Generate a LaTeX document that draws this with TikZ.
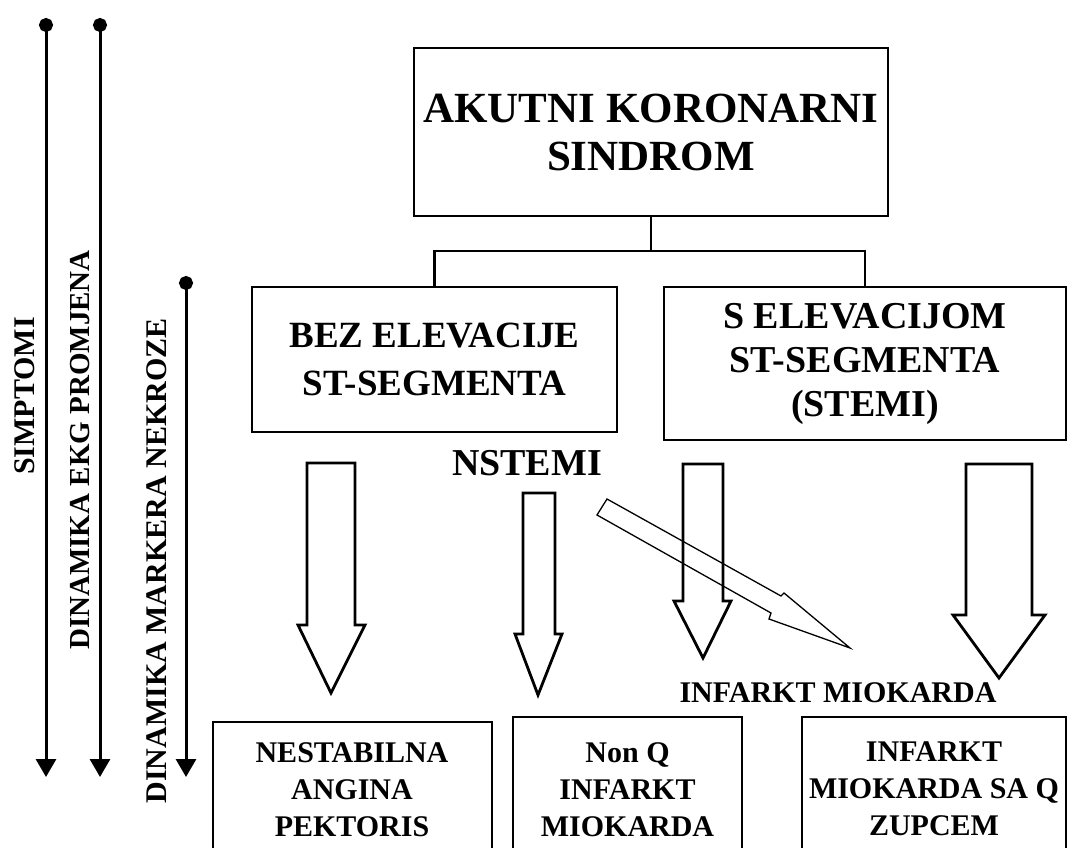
\documentclass[tikz,border=0pt]{standalone}
\usepackage{fontspec}
\setmainfont{Liberation Serif}
\usetikzlibrary{arrows.meta}
\tikzset{
  box/.style={draw, line width=2.5pt, align=center, inner sep=0pt},
  blk/.style={draw, line width=2.8pt, line join=miter},
  thinblk/.style={draw, line width=1.3pt, line join=miter},
  tree/.style={line width=2.5pt},
  tl/.style={line width=3pt, {Circle[length=14pt,width=14pt]}-{Triangle[length=18pt,width=20pt]}},
  vlbl/.style={font=\bfseries\fontsize{30}{36}\selectfont, rotate=90, inner sep=0pt},
  bigtxt/.style={font=\bfseries\fontsize{43}{48}\selectfont},
  midtxt/.style={font=\bfseries\fontsize{37}{48}\selectfont},
  midtxtb/.style={font=\bfseries\fontsize{38}{44}\selectfont},
  smtxt/.style={font=\bfseries\fontsize{30}{37}\selectfont, align=center, inner sep=0pt},
}
\begin{document}
\begin{tikzpicture}[x=1pt,y=-1pt]
\useasboundingbox (0,0) rectangle (1068,848);
\clip (0,0) rectangle (1068,848);

% left time lines
\coordinate (s1) at (46,18);  \coordinate (e1) at (46,777);
\coordinate (s2) at (100,18); \coordinate (e2) at (100,777);
\coordinate (s3) at (186,276); \coordinate (e3) at (186,777);
\draw[tl] (s1) -- (e1);
\draw[tl] (s2) -- (e2);
\draw[tl] (s3) -- (e3);
\node[vlbl] (l1) at (25,396) {SIMPTOMI};
\node[vlbl, font=\bfseries\fontsize{29}{36}\selectfont] (l2) at (80,450) {DINAMIKA EKG PROMJENA};
\node[vlbl] (l3) at (157,561) {DINAMIKA MARKERA NEKROZE};

% top box
\node[box, bigtxt, minimum width=474pt, minimum height=168pt] (top) at (651,132) {AKUTNI KORONARNI\\SINDROM};
\node[box, midtxt, minimum width=365pt, minimum height=145pt] (bez) at (434.5,359.5) {BEZ ELEVACIJE\\ST-SEGMENTA};
\node[box, midtxtb, minimum width=402pt, minimum height=153pt] (stemi) at (865,363.5) {S ELEVACIJOM\\ST-SEGMENTA\\(STEMI)};

\coordinate (hub) at (651,251);
\draw[tree] (top.south) -- (hub);
\draw[tree] (hub) -| (bez.north);
\draw[tree] (hub) -| (stemi.north);

% labels
\node[font=\bfseries\fontsize{38}{44}\selectfont, inner sep=0pt] (nstemi) at (527,463) {NSTEMI};
\node[font=\bfseries\fontsize{30}{36}\selectfont, inner sep=0pt] (im) at (838,693) {INFARKT MIOKARDA};

% block arrows
\draw[blk] (307,463) -- (355,463) -- (355,625) -- (365,625) -- (331,693) -- (298,625) -- (307,625) -- cycle;
\draw[blk] (523,493) -- (555,493) -- (555,634) -- (562,634) -- (538,695) -- (515,634) -- (523,634) -- cycle;
\draw[blk] (683,464) -- (723,464) -- (723,601) -- (731,601) -- (703,658) -- (674,601) -- (683,601) -- cycle;
\draw[blk] (966,464) -- (1032,464) -- (1032,615) -- (1045,615) -- (999,678) -- (953,615) -- (966,615) -- cycle;

% diagonal arrow
\draw[thinblk] (607,499) -- (781,596) -- (784,593) -- (850,648) -- (769,619) -- (771,613) -- (597,515) -- cycle;

% bottom boxes
\draw[line width=2.5pt] (213,860) -- (213,722) -- (492,722) -- (492,860);
\draw[line width=2.5pt] (513,860) -- (513,717) -- (742,717) -- (742,860);
\draw[line width=2.5pt] (802,860) -- (802,717) -- (1066,717) -- (1066,860);
\node[smtxt] (nap) at (352,790) {NESTABILNA\\ANGINA\\PEKTORIS};
\node[smtxt] (nq) at (627.5,790) {Non Q\\INFARKT\\MIOKARDA};
\node[smtxt] (iq) at (934,789) {INFARKT\\MIOKARDA SA Q\\ZUPCEM};
\end{tikzpicture}
\end{document}
